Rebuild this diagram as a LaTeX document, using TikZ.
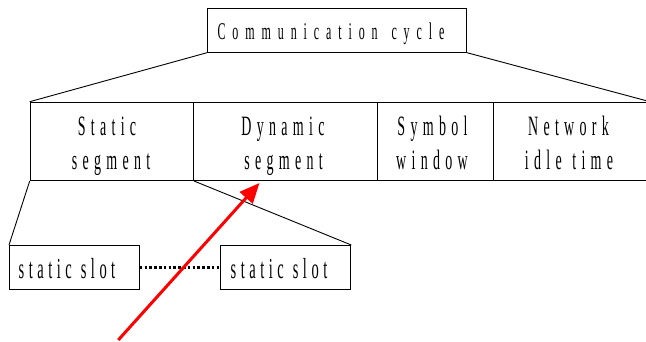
\documentclass[tikz,border=0pt]{standalone}
\usepackage{fontspec}
\setmainfont{Liberation Serif}
\usetikzlibrary{arrows.meta}
% a narrow serif face, tracked by hand with \spaced
\newfontfamily\narrowserif[FakeStretch=0.5]{Liberation Serif}
\ExplSyntaxOn
% \spaced{<gap>}{<text>}: puts <gap> between every two characters
\NewDocumentCommand\spaced{mm}
  { \kern -#1 \str_map_inline:nn {#2} { \kern #1 ##1 } }
\ExplSyntaxOff
\begin{document}
\begin{tikzpicture}[x=1pt,y=-1pt,
  box/.style={draw, line width=1pt, inner sep=0pt, anchor=north west},
  lbl/.style={anchor=base, inner sep=0pt},
  cyclelbl/.style={lbl, font=\narrowserif\fontsize{24pt}{24pt}\selectfont},
  seglbl/.style={lbl, font=\narrowserif\fontsize{28pt}{28pt}\selectfont},
  slotlbl/.style={lbl, font=\narrowserif\fontsize{29pt}{29pt}\selectfont},
  link/.style={line width=0.9pt},
  dots/.style={line width=2.7pt, dash pattern=on 2.6pt off 2.2pt},
  pointer/.style={red, line width=3pt, -{Triangle[length=20pt,width=17pt]}}]
\useasboundingbox (0,0) rectangle (646,341);
\clip (0,0) rectangle (646,341);

% communication cycle
\node[box, minimum width=259pt, minimum height=43.7pt] (cycle) at (207,8) {};
\node[cyclelbl] (cycle-t) at (331,39.3) {\spaced{6.9pt}{Communication cycle}};

% the four segments of the cycle
\node[box, minimum width=163.3pt, minimum height=78.3pt] (segS) at (29.7,101.7) {};
\node[box, minimum width=184.4pt, minimum height=78.3pt] (segD) at (193,101.7) {};
\node[box, minimum width=115.6pt, minimum height=78.3pt] (segW) at (377.4,101.7) {};
\node[box, minimum width=156pt, minimum height=78.3pt] (segN) at (493,101.7) {};

\node[seglbl] (segS-a) at (107,135) {\spaced{5.3pt}{Static}};
\node[seglbl] (segS-b) at (111,169) {\spaced{5.3pt}{segment}};
\node[seglbl] (segD-a) at (283,135) {\spaced{5.3pt}{Dynamic}};
\node[seglbl] (segD-b) at (283.5,169) {\spaced{5.3pt}{segment}};
\node[seglbl] (segW-a) at (432.5,135) {\spaced{5.3pt}{Symbol}};
\node[seglbl] (segW-b) at (432,169) {\spaced{5.3pt}{window}};
\node[seglbl] (segN-a) at (568.5,135) {\spaced{5.3pt}{Network}};
\node[seglbl] (segN-b) at (569,169) {\spaced{5.3pt}{idle time}};

% static slots
\node[box, minimum width=129.7pt, minimum height=44pt] (slot1) at (9,245) {};
\node[box, minimum width=130pt, minimum height=44pt] (slot2) at (220.3,245) {};
\node[slotlbl] (slot1-t) at (67,278) {\spaced{4.5pt}{static slot}};
\node[slotlbl] (slot2-t) at (279,278) {\spaced{4.5pt}{static slot}};

% expansion lines
\draw[link] (cycle.south west) -- (segS.north west);
\draw[link] (cycle.south east) -- (segN.north east);
\draw[link] (segS.south west) -- (slot1.north west);
\draw[link] (segS.south east) -- (slot2.north east);
\draw[dots] (slot1.east) -- (slot2.west);

% pointer to the dynamic segment
\coordinate (tail) at (118.3,340);
\coordinate (tip) at (259.5,183);
\draw[pointer] (tail) -- (tip);
\end{tikzpicture}
\end{document}
